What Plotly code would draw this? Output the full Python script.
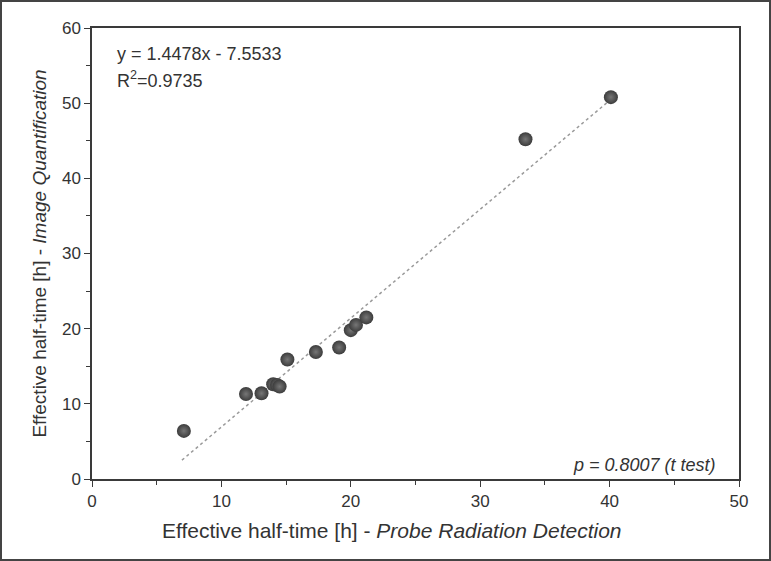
import plotly.graph_objects as go

# Data
probe_x = [7.1, 11.9, 13.1, 14.0, 14.3, 14.5, 15.1, 17.3, 19.1, 20.0, 20.4, 21.2, 33.5, 40.1]
image_y = [6.4, 11.3, 11.4, 12.6, 12.5, 12.3, 15.9, 16.9, 17.5, 19.8, 20.5, 21.5, 45.2, 50.8]
slope = 1.4478
intercept = -7.5533
r2_text = "R<sup>2</sup>=0.9735"
eq_text = "y = 1.4478x - 7.5533"
p_text = "<i>p = 0.8007 (t test)</i>"
x_title = "Effective half-time [h] - <i>Probe Radiation Detection</i>"
y_title = "Effective half-time [h] - <i>Image Quantification</i>"
x_ticks = [0, 10, 20, 30, 40, 50]
y_ticks = [0, 10, 20, 30, 40, 50, 60]

W, H = 771, 561
L, R, T, B = 92, 32, 28, 82

fit_x = [min(probe_x) - 0.15, max(probe_x)]
fit_y = [slope * v + intercept for v in fit_x]

fig = go.Figure()
fig.add_trace(go.Scatter(x=fit_x, y=fit_y, mode="lines",
                         line=dict(color="#9a9a9a", width=1.5, dash="dot"),
                         hoverinfo="skip", showlegend=False))
fig.add_trace(go.Scatter(x=probe_x, y=image_y, mode="markers",
                         marker=dict(size=14, color="#3c3c3c",
                                     gradient=dict(type="radial", color="#767676"),
                                     line=dict(width=0)),
                         showlegend=False))

font = "Liberation Sans, Arial, sans-serif"
txt = "#333333"
axis_common = dict(showline=True, linecolor="#3a3a3a", linewidth=1.5, mirror=True,
                   ticks="outside", ticklen=6, tickwidth=1.3, tickcolor="#3a3a3a",
                   showgrid=False, zeroline=False,
                   tickfont=dict(family=font, size=17, color=txt),
                   minor=dict(ticks="outside", ticklen=4, tickwidth=1.2, tickcolor="#3a3a3a", dtick=5))

fig.update_xaxes(range=[0, 50], tickvals=x_ticks, **axis_common)
fig.update_yaxes(range=[0, 60], tickvals=y_ticks, **axis_common,
                 title=dict(text=y_title, font=dict(family=font, size=19, color=txt), standoff=10))

pw, ph = W - L - R, H - T - B
# x-axis title placed as annotation (centered slightly left of plot center, as in reference)
fig.add_annotation(x=(392 - L) / pw, y=-(530 - T - ph) / ph, xref="paper", yref="paper",
                   text=x_title, showarrow=False, xanchor="center", yanchor="middle",
                   font=dict(family=font, size=21, color=txt))

fig.add_annotation(x=0.035, y=0.943, xref="paper", yref="paper", text=eq_text, showarrow=False,
                   xanchor="left", yanchor="middle", font=dict(family=font, size=18, color=txt))
fig.add_annotation(x=0.035, y=0.885, xref="paper", yref="paper", text=r2_text, showarrow=False,
                   xanchor="left", yanchor="middle", font=dict(family=font, size=18, color=txt))
fig.add_annotation(x=0.968, y=0.03, xref="paper", yref="paper", text=p_text, showarrow=False,
                   xanchor="right", yanchor="middle", font=dict(family=font, size=18, color=txt))

fig.add_shape(type="rect", xref="paper", yref="paper",
              x0=(-L + 1) / pw, x1=(pw + R - 1) / pw,
              y0=(-B + 1) / ph, y1=(ph + T - 1) / ph,
              line=dict(color="#444444", width=2), fillcolor="rgba(0,0,0,0)")

fig.update_layout(width=W, height=H, margin=dict(l=L, r=R, t=T, b=B),
                  plot_bgcolor="white", paper_bgcolor="white")

fig.write_html("out.html", config={"displayModeBar": False},
               post_script="document.body.style.margin='0';document.body.style.overflow='hidden';")
